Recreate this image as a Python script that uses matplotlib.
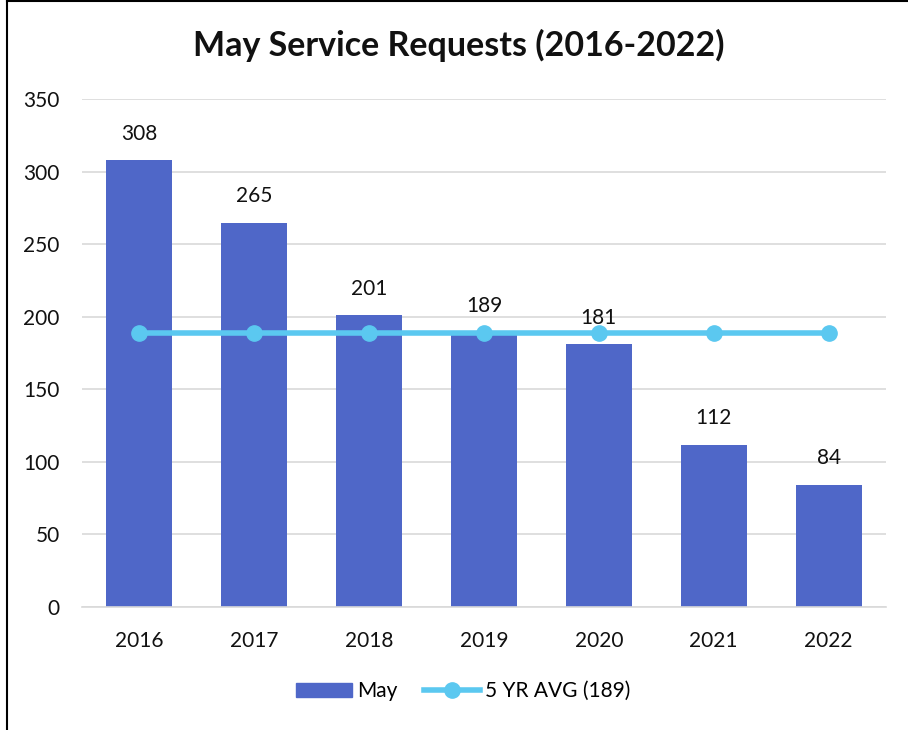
import numpy as np
import matplotlib.pyplot as plt
from matplotlib.lines import Line2D

# data
years = ['2016', '2017', '2018', '2019', '2020', '2021', '2022']
requests = [308, 265, 201, 189, 181, 112, 84]
avg_5yr = [189, 189, 189, 189, 189, 189, 189]
y_ticks = [0, 50, 100, 150, 200, 250, 300, 350]

plt.rcParams['font.family'] = ['Lato', 'DejaVu Sans']

fig = plt.figure(figsize=(9.08, 7.3), dpi=100)
ax = fig.add_axes([0.0903, 0.1685, 0.8855, 0.6955])

x = np.arange(len(years))
bar_col = '#4F67C8'
line_col = '#5BC8F0'

ax.bar(x, requests, width=0.575, color=bar_col, zorder=2, label='May')
ax.plot(x, avg_5yr, color=line_col, lw=4, marker='o', ms=11, zorder=3,
        label='5 YR AVG (189)')

for xi, v in zip(x, requests):
    ax.annotate(str(v), (xi, v), xytext=(0, 12), textcoords='offset points',
                ha='center', va='bottom', fontsize=15, color='#111111', zorder=4)

ax.set_xlim(-0.5, len(years) - 0.5)
ax.set_ylim(0, 350)
ax.set_yticks(y_ticks)
ax.set_xticks(x)
ax.set_xticklabels(years)
ax.grid(axis='y', color='#D9D9D9', lw=1.2, zorder=0)
for s in ['top', 'right', 'left']:
    ax.spines[s].set_visible(False)
ax.spines['bottom'].set_color('#D9D9D9')
ax.spines['bottom'].set_linewidth(1.2)
ax.tick_params(axis='both', length=0, labelsize=15, colors='#111111')
ax.tick_params(axis='x', pad=17)
ax.tick_params(axis='y', pad=16)

fig.text(0.505, 0.938, 'May Service Requests (2016-2022)', ha='center',
         va='center', fontsize=24.5, fontweight='bold', color='#111111')

handles = [plt.Rectangle((0, 0), 1, 1, color=bar_col),
           Line2D([0], [0], color=line_col, lw=4, marker='o', ms=11)]
fig.legend(handles, ['May', '5 YR AVG (189)'], loc='center',
           bbox_to_anchor=(0.51, 0.053), ncol=2, frameon=False, fontsize=15,
           handlelength=2.7, columnspacing=1.3, handletextpad=0.2)

# outer frame on left and top edges
fig.add_artist(Line2D([0.0072, 0.0072], [0, 1], color='black', lw=1.5,
                      transform=fig.transFigure))
fig.add_artist(Line2D([0.0072, 1], [0.999, 0.999], color='black', lw=1.5,
                      transform=fig.transFigure))

fig.savefig('out.png', dpi=100)
